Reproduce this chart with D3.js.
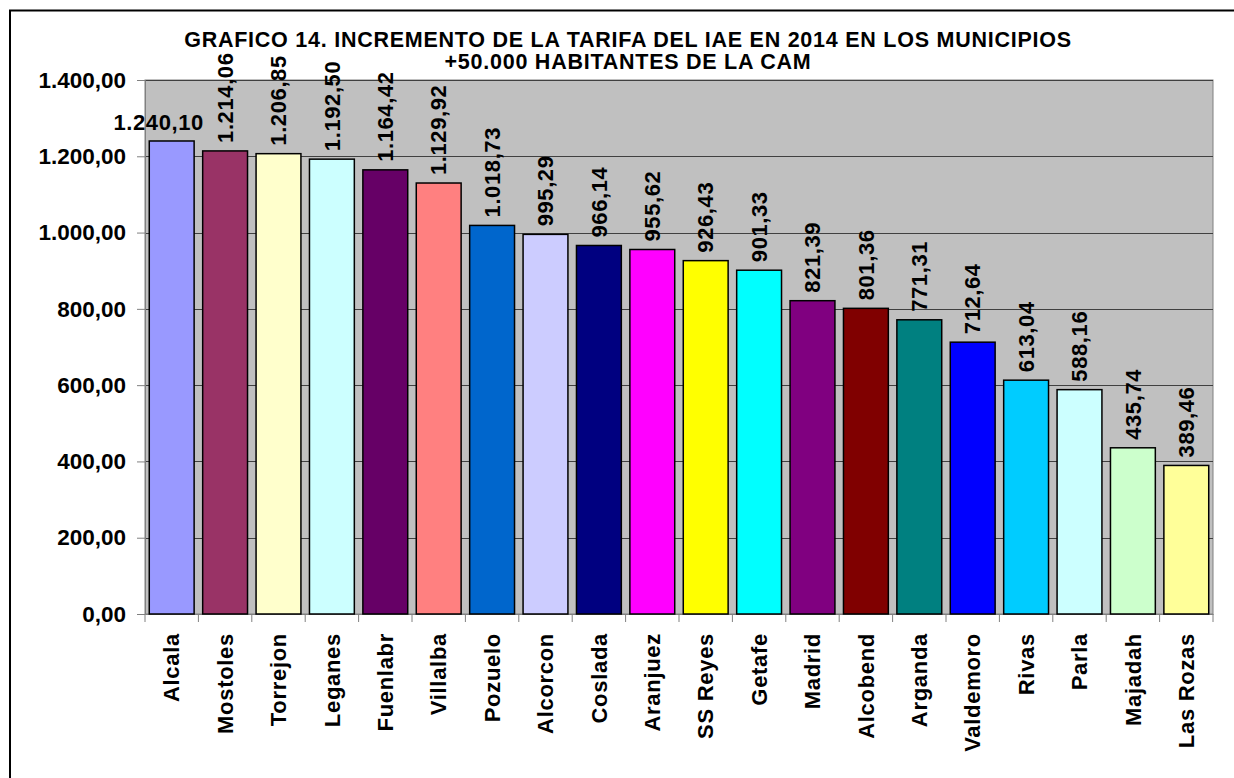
<!DOCTYPE html>
<html><head><meta charset="utf-8">
<script src="https://cdn.jsdelivr.net/npm/d3@7"></script>
<style>body{margin:0;background:#fff}svg{display:block}text{font-family:"Liberation Sans",Arial,sans-serif;font-weight:bold;fill:#000}</style>
</head><body><svg id="c" width="1234" height="778"></svg>
<script>
const categories = ["Alcala","Mostoles","Torrejon","Leganes","Fuenlabr","Villalba","Pozuelo","Alcorcon","Coslada","Aranjuez","SS Reyes","Getafe","Madrid","Alcobend","Arganda","Valdemoro","Rivas","Parla","Majadah","Las Rozas"];
const values = [1240.10,1214.06,1206.85,1192.50,1164.42,1129.92,1018.73,995.29,966.14,955.62,926.43,901.33,821.39,801.36,771.31,712.64,613.04,588.16,435.74,389.46];
const colors = ["#9999FF","#993366","#FFFFCC","#CCFFFF","#660066","#FF8080","#0066CC","#CCCCFF","#000080","#FF00FF","#FFFF00","#00FFFF","#800080","#800000","#008080","#0000FF","#00CCFF","#CCFFFF","#CCFFCC","#FFFF99"];
const yTicks = [0,200,400,600,800,1000,1200,1400];
const titleLines = ["GRAFICO 14. INCREMENTO DE LA TARIFA DEL IAE EN 2014 EN LOS MUNICIPIOS","+50.000 HABITANTES DE LA CAM"];

const fmt = v => {
  const s = v.toFixed(2).split(".");
  return s[0].replace(/\B(?=(\d{3})+(?!\d))/g, ".") + "," + s[1];
};

const svg = d3.select("#c");
const L = 145, R = 1213, T = 80, B = 614;
const x = d3.scaleBand().domain(categories).range([L, R]).paddingInner(0.16).paddingOuter(0.08);
const y = d3.scaleLinear().domain([0, 1400]).range([B, T]);

// outer border
svg.append("rect").attr("x", 10).attr("y", 10.5).attr("width", 1240).attr("height", 800)
  .attr("fill", "none").attr("stroke", "#000").attr("stroke-width", 2);

// plot area
svg.append("rect").attr("x", L).attr("y", T).attr("width", R - L).attr("height", B - T)
  .attr("fill", "#C0C0C0").attr("stroke", "#808080").attr("stroke-width", 1);

// grid
svg.append("g").selectAll("line").data(yTicks.filter(d => d > 0)).join("line")
  .attr("x1", L).attr("x2", R).attr("y1", d => Math.round(y(d)) + 0.5).attr("y2", d => Math.round(y(d)) + 0.5)
  .attr("stroke", "#404040").attr("stroke-width", 1);

// y axis
const yAxis = svg.append("g").attr("transform", `translate(${L},0)`)
  .call(d3.axisLeft(y).tickValues(yTicks).tickFormat(fmt).tickSize(8).tickPadding(11));
yAxis.select(".domain").attr("stroke", "#808080");
yAxis.selectAll(".tick line").attr("stroke", "#808080");
yAxis.selectAll("text").style("font-size", "22.5px").attr("font-family", null);

// x axis
const xAxis = svg.append("g").attr("transform", `translate(0,${B})`)
  .call(d3.axisBottom(x).tickSize(0).tickFormat(""));
xAxis.select(".domain").attr("stroke", "#808080");
const step = x.step();
svg.append("g").selectAll("line").data(d3.range(categories.length + 1)).join("line")
  .attr("x1", i => L + i * step).attr("x2", i => L + i * step)
  .attr("y1", B).attr("y2", B + 8).attr("stroke", "#808080");

// bars
svg.append("g").selectAll("rect").data(values).join("rect")
  .attr("x", (d, i) => x(categories[i])).attr("width", x.bandwidth())
  .attr("y", d => y(d)).attr("height", d => B - y(d))
  .attr("fill", (d, i) => colors[i]).attr("stroke", "#000").attr("stroke-width", 1.5);

// category labels
svg.append("g").selectAll("text").data(categories).join("text")
  .attr("transform", d => `translate(${x(d) + x.bandwidth() / 2},${B + 19}) rotate(-90)`)
  .attr("text-anchor", "end").attr("dy", "0.35em").style("font-size", "22px")
  .style("letter-spacing", "0.7px").text(d => d);

// value labels
svg.append("g").selectAll("text").data(values).join("text")
  .each(function (d, i) {
    const cx = x(categories[i]) + x.bandwidth() / 2;
    const t = d3.select(this).style("font-size", "22px").style("letter-spacing", "0.6px").text(fmt(d));
    if (i === 0) {
      t.attr("x", cx - 13).attr("y", y(d) - 11).attr("text-anchor", "middle");
    } else {
      t.attr("transform", `translate(${cx},${y(d) - 8}) rotate(-90)`).attr("text-anchor", "start").attr("dy", "0.35em");
    }
  });

// title
svg.append("g").selectAll("text").data(titleLines).join("text")
  .attr("x", 628).attr("y", (d, i) => 47 + i * 22).attr("text-anchor", "middle")
  .style("font-size", "21.5px").style("letter-spacing", "0.75px").text(d => d);
</script></body></html>
